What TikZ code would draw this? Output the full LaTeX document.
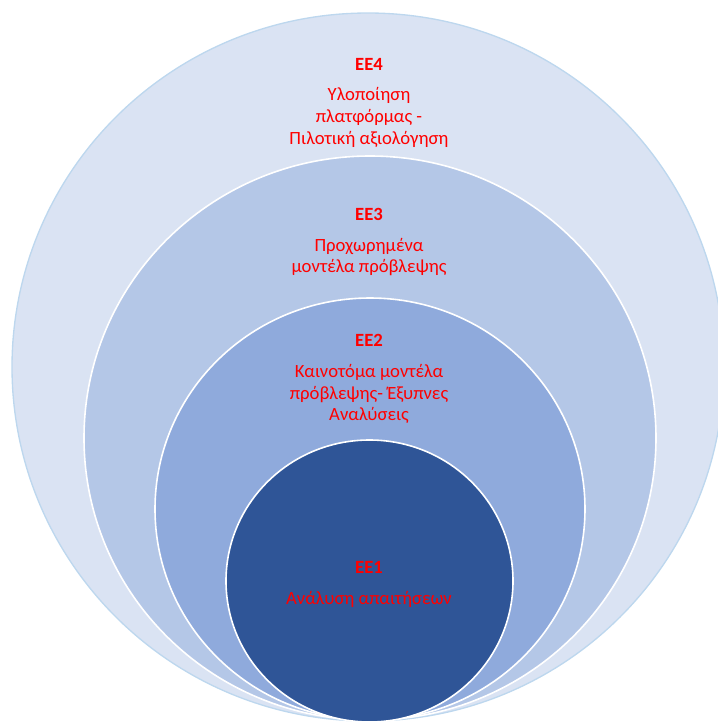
\documentclass[tikz,border=0pt]{standalone}
\usepackage{fontspec}
\setmainfont{Carlito}
\usetikzlibrary{positioning}
\definecolor{ringA}{HTML}{DAE3F3}
\definecolor{ringB}{HTML}{B4C7E7}
\definecolor{ringC}{HTML}{8FAADC}
\definecolor{ringD}{HTML}{2F5597}
\definecolor{rimA}{HTML}{BDD7EE}
\definecolor{labelred}{HTML}{FF0000}
\tikzset{
  ringtitle/.style={text=labelred, font=\fontsize{14}{16}\selectfont\bfseries, inner sep=0pt},
  ringtext/.style={text=labelred, font=\fontsize{14}{16.2}\selectfont, align=center, inner sep=0pt}
}

\begin{document}
\begin{tikzpicture}[x=0.75pt, y=-0.75pt]
	%%%%% START %%%%%
	\useasboundingbox (0, 0) rectangle (718, 722);
	\clip (0, 0) rectangle (718, 722);
	
	\draw[fill=ringA, draw=rimA, line width=1pt] (368, 367) ellipse (356 and 354);
	\draw[fill=ringB, draw=white, line width=1.2pt] (370, 438) ellipse (286 and 282);
	\draw[fill=ringC, draw=white, line width=1.2pt] (370, 509) ellipse (215 and 211);
	\draw[fill=ringD, draw=white, line width=1.2pt] (369.5, 581) ellipse (143.5 and 141);
	
	\node[ringtitle] (ee4) at (369, 64) {EE4};
	\node[ringtext] (ee4text) at (369, 117.5) {Υλοποίηση\\πλατφόρμας -\\Πιλοτική αξιολόγηση};
	
	\node[ringtitle] (ee3) at (369, 214) {EE3};
	\node[ringtext] (ee3text) at (369, 257) {Προχωρημένα\\μοντέλα πρόβλεψης};
	
	\node[ringtitle] (ee2) at (369, 340) {EE2};
	\node[ringtext] (ee2text) at (369, 394) {Καινοτόμα μοντέλα\\πρόβλεψης- Έξυπνες\\Αναλύσεις};
	
	\node[ringtitle] (ee1) at (369, 567) {EE1};
	\node[ringtext] (ee1text) at (369, 599) {Ανάλυση απαιτήσεων};
	%%%%% END %%%%%
\end{tikzpicture}
\end{document}
